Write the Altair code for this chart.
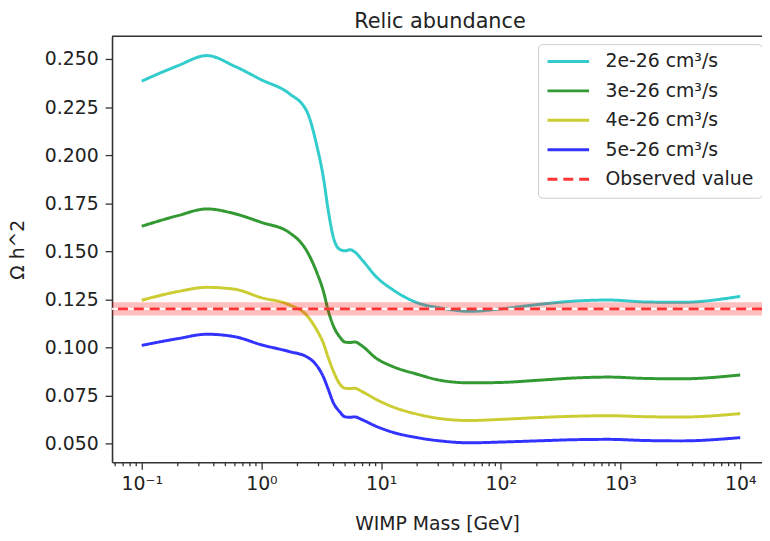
import altair as alt
import pandas as pd

# ---- data ----
mass = [0.1, 0.2, 0.35, 0.6, 1.0, 1.7, 2.4, 2.9, 3.3, 3.6, 4.0, 4.5, 5.0, 5.5,
        6.0, 7.0, 9.0, 12.5, 20, 32, 55, 100, 200, 400, 800, 1600, 3200, 10000]

omega_2e = [0.2385, 0.2465, 0.2518, 0.2462, 0.2392, 0.2321, 0.2227, 0.2050, 0.1880,
            0.1720, 0.1570, 0.1510, 0.1502, 0.1508, 0.1497, 0.1452, 0.1370, 0.1300,
            0.1232, 0.1204, 0.1187, 0.1200, 0.1222, 0.1240, 0.1246, 0.1236, 0.1234, 0.1265]
omega_3e = [0.1630, 0.1685, 0.1720, 0.1695, 0.1650, 0.1598, 0.1500, 0.1390, 0.1290,
            0.1195, 0.1110, 0.1055, 0.1027, 0.1025, 0.1028, 0.1005, 0.0945, 0.0900,
            0.0860, 0.0827, 0.0815, 0.0817, 0.0828, 0.0840, 0.0845, 0.0838, 0.0836, 0.0856]
omega_4e = [0.1245, 0.1290, 0.1312, 0.1302, 0.1258, 0.1222, 0.1165, 0.1090, 0.1020,
            0.0950, 0.0875, 0.0810, 0.0787, 0.0785, 0.0787, 0.0768, 0.0730, 0.0690,
            0.0652, 0.0628, 0.0619, 0.0625, 0.0634, 0.0641, 0.0644, 0.0639, 0.0637, 0.0655]
omega_5e = [0.1010, 0.1045, 0.1068, 0.1055, 0.1013, 0.0978, 0.0950, 0.0905, 0.0845,
            0.0785, 0.0710, 0.0665, 0.0638, 0.0636, 0.0638, 0.0622, 0.0590, 0.0558,
            0.0530, 0.0512, 0.0503, 0.0507, 0.0513, 0.0519, 0.0521, 0.0515, 0.0513, 0.0530]

series_names = ["2e-26 cm³/s", "3e-26 cm³/s", "4e-26 cm³/s", "5e-26 cm³/s", "Observed value"]
series_colors = ["#33CCCC", "#339933", "#CCCC33", "#3333FF", "#FF3333"]

observed = 0.120
band_low = 0.1165
band_high = 0.1235

major_ticks = [0.1, 1, 10, 100, 1000, 10000]
minor_ticks = [0.06, 0.07, 0.08, 0.09,
               0.2, 0.3, 0.4, 0.5, 0.6, 0.7, 0.8, 0.9,
               2, 3, 4, 5, 6, 7, 8, 9,
               20, 30, 40, 50, 60, 70, 80, 90,
               200, 300, 400, 500, 600, 700, 800, 900,
               2000, 3000, 4000, 5000, 6000, 7000, 8000, 9000]
y_ticks = [0.050, 0.075, 0.100, 0.125, 0.150, 0.175, 0.200, 0.225, 0.250]

# ---- tables ----
rows = []
for name, vals in zip(series_names[:4], [omega_2e, omega_3e, omega_4e, omega_5e]):
    for m, v in zip(mass, vals):
        rows.append({"mass": m, "omega": v, "series": name})
lines_df = pd.DataFrame(rows)
obs_df = pd.DataFrame({"omega": [observed], "series": [series_names[4]]})
band_df = pd.DataFrame({"lo": [band_low], "hi": [band_high]})
minor_df = pd.DataFrame({"mass": minor_ticks})
one_df = pd.DataFrame({"a": [0]})

W, H = 656, 430
FONT = "DejaVu Sans"
AX = "#333333"

xscale = alt.Scale(type="log", domain=[0.0565, 15200], nice=False)
yscale = alt.Scale(domain=[0.0402, 0.2619], nice=False, zero=False)

legend_opts = dict(
    title=None, orient="none", legendX=430, legendY=8,
    symbolType="stroke", symbolSize=1764, symbolStrokeWidth=3, clipHeight=19,
    labelFontSize=19, labelFont=FONT, labelColor="#222222",
    labelOffset=15, rowPadding=9.7, padding=8,
    strokeColor="#cccccc", cornerRadius=4, fillColor="white",
)

color = alt.Color(
    "series:N",
    scale=alt.Scale(domain=series_names, range=series_colors),
    legend=alt.Legend(**legend_opts),
)
dash = alt.StrokeDash(
    "series:N",
    scale=alt.Scale(domain=series_names, range=[[1, 0], [1, 0], [1, 0], [1, 0], [10, 6]]),
    legend=alt.Legend(**legend_opts),
)

x_axis = alt.X(
    "mass:Q", scale=xscale,
    axis=alt.Axis(
        title="WIMP Mass [GeV]", values=major_ticks, grid=False,
        labelExpr="datum.value < 0.5 ? '10⁻¹' : datum.value < 5 ? '10⁰' : datum.value < 50 ? '10¹' : datum.value < 500 ? '10²' : datum.value < 5000 ? '10³' : '10⁴'",
        tickSize=7, labelPadding=6, titlePadding=21,
    ),
)
y_axis = alt.Y(
    "omega:Q", scale=yscale,
    axis=alt.Axis(title="Ω h^2", values=y_ticks, format=".3f", grid=False,
                  tickSize=7, labelPadding=7, titlePadding=17),
)

lines = alt.Chart(lines_df).mark_line(strokeWidth=3, interpolate="monotone").encode(
    x=x_axis, y=y_axis, color=color, strokeDash=dash, order=alt.Order("mass:Q"),
)

band = alt.Chart(band_df).mark_rect(color="#FF0000", opacity=0.25).encode(
    y=alt.Y("lo:Q", scale=yscale), y2="hi:Q",
)

white_rule = alt.Chart(obs_df).mark_rule(color="white", strokeWidth=2.5, opacity=0.9).encode(
    y=alt.Y("omega:Q", scale=yscale),
)

obs_rule = alt.Chart(obs_df).mark_rule(strokeWidth=3).encode(
    y=alt.Y("omega:Q", scale=yscale), color=color, strokeDash=dash,
)

minor = alt.Chart(minor_df).mark_rule(color=AX, strokeWidth=1.3).encode(
    x=alt.X("mass:Q", scale=xscale), y=alt.value(H), y2=alt.value(H + 4),
)

top_spine = alt.Chart(one_df).mark_rule(color=AX, strokeWidth=1.6).encode(
    x=alt.value(0), x2=alt.value(W), y=alt.value(0),
)

chart = alt.layer(lines, band, white_rule, obs_rule, minor, top_spine).properties(
    width=W, height=H,
    autosize=alt.AutoSizeParams(type="none"),
    padding={"left": 105, "top": 26, "right": 0, "bottom": 69},
    title=alt.TitleParams("Relic abundance", font=FONT, fontSize=21, fontWeight="normal",
                          color="#222222", offset=3, anchor="middle", dx=3),
).configure_view(stroke=None).configure_axis(
    labelFont=FONT, titleFont=FONT, labelFontSize=19, titleFontSize=19,
    titleFontWeight="normal", labelColor="#222222", titleColor="#222222",
    domainColor=AX, tickColor=AX, domainWidth=1.6, tickWidth=1.3,
).resolve_scale(color="shared", strokeDash="shared")

chart.save("out.html", embed_options={"renderer": "svg", "actions": False})
